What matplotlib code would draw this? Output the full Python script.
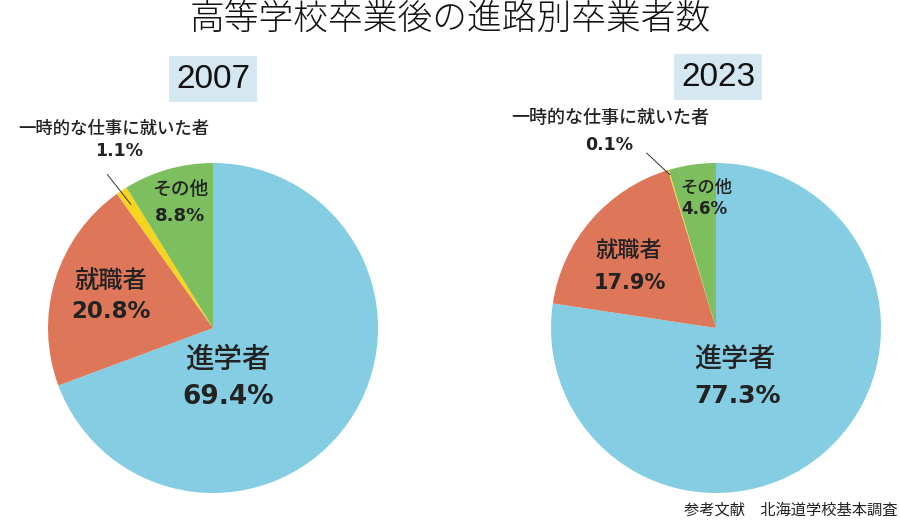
import matplotlib
matplotlib.use('Agg')
import numpy as np
import matplotlib.pyplot as plt

plt.rcParams['font.family'] = ['Noto Sans CJK JP', 'DejaVu Sans']

# Data
categories = ['進学者', '就職者', '一時的な仕事に就いた者', 'その他']
values_2007 = [69.4, 20.8, 1.1, 8.8]
values_2023 = [77.3, 17.9, 0.1, 4.6]
years = ['2007', '2023']
colors = ['#84cde3', '#de775a', '#f7d41e', '#7dbf5f']

W, H = 900, 524
R = 165  # pie radius in pixels

fig = plt.figure(figsize=(W / 100, H / 100), dpi=100)


def pie_axes(cx, cy):
    return fig.add_axes([(cx - R) / W, (H - cy - R) / H, 2 * R / W, 2 * R / H])


def draw_pie(ax, vals, spec):
    ax.pie(vals, colors=colors, startangle=90, counterclock=False, radius=1,
           wedgeprops=dict(linewidth=0))
    ax.set_xlim(-1, 1)
    ax.set_ylim(-1, 1)
    ax.set_aspect('equal')
    ax.axis('off')
    for i, (name, v) in enumerate(zip(categories, vals)):
        (nx, ny), (px, py), fs_n, fs_p = spec[i]
        ax.text(nx, ny, name, ha='center', va='center', fontsize=fs_n,
                fontweight='medium', color='#222222')
        ax.text(px, py, f'{v:.1f}%', ha='center', va='center', fontsize=fs_p,
                fontweight='bold', family=['DejaVu Sans'], color='#222222')
    # angle of the small wedge, for the leader line
    frac = (vals[0] + vals[1] + vals[2] / 2) / sum(vals)
    return np.deg2rad(90 - 360 * frac)


ax1 = pie_axes(213, 328)
spec1 = [((0.09, -0.19), (0.09, -0.42), 20.5, 19),
         ((-0.62, 0.28), (-0.62, 0.10), 17.5, 16.5),
         ((-0.60, 1.21), (-0.57, 1.07), 12.5, 12.5),
         ((-0.20, 0.84), (-0.20, 0.68), 13.5, 13)]
a1 = draw_pie(ax1, values_2007, spec1)
ax1.plot([0.9 * np.cos(a1), -0.64], [0.9 * np.sin(a1), 0.93], color='#333333',
         lw=0.7, clip_on=False)

ax2 = pie_axes(716, 328)
spec2 = [((0.115, -0.19), (0.13, -0.41), 19.5, 18),
         ((-0.53, 0.47), (-0.52, 0.27), 16, 15),
         ((-0.64, 1.27), (-0.65, 1.11), 13, 12.5),
         ((-0.06, 0.85), (-0.07, 0.72), 12.5, 12)]
a2 = draw_pie(ax2, values_2023, spec2)
ax2.plot([0.97 * np.cos(a2), -0.42], [0.97 * np.sin(a2), 1.06], color='#333333',
         lw=0.7, clip_on=False)

# year labels
for (x, y), yr in zip([(213, 79), (718, 77)], years):
    fig.text(x / W, 1 - y / H, yr, ha='center', va='center', fontsize=24,
             family=['Liberation Sans', 'DejaVu Sans'], color='#111111',
             bbox=dict(boxstyle='square,pad=0.22', facecolor='#d5e8f2',
                       edgecolor='none'))

fig.text(0.5, 1 - 19 / H, '高等学校卒業後の進路別卒業者数', ha='center', va='center',
         fontsize=25, fontweight='light', color='#111111')
fig.text(897 / W, 1 - 510 / H, '参考文献　北海道学校基本調査', ha='right', va='center',
         fontsize=11, color='#222222')

fig.savefig('out.png', dpi=100, facecolor='white')
